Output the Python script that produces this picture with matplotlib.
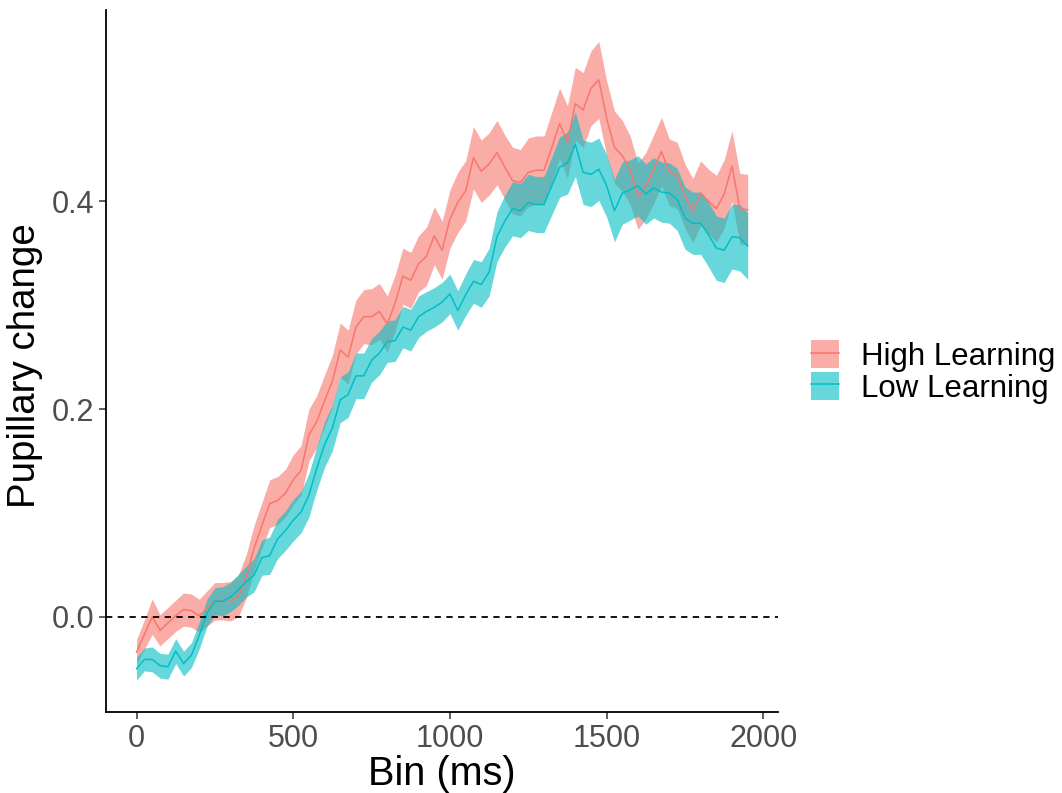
import numpy as np
import matplotlib
matplotlib.use("Agg")
import matplotlib.pyplot as plt
from matplotlib.patches import Patch
from matplotlib.lines import Line2D

plt.rcParams['font.family'] = ['Liberation Sans', 'DejaVu Sans']

bin_ms = np.arange(0, 1951, 25)

high_mean = [-0.034, -0.017, 0.000, -0.013, -0.006, 0.001, 0.007, 0.006, 0.001, 0.008,
             0.015, 0.015, 0.015, 0.020, 0.039, 0.066, 0.088, 0.109, 0.112, 0.119,
             0.132, 0.141, 0.175, 0.188, 0.208, 0.227, 0.257, 0.250, 0.279, 0.289,
             0.289, 0.294, 0.282, 0.302, 0.328, 0.324, 0.340, 0.347, 0.367, 0.353,
             0.383, 0.399, 0.410, 0.442, 0.429, 0.436, 0.447, 0.433, 0.420, 0.418,
             0.428, 0.430, 0.430, 0.452, 0.475, 0.457, 0.494, 0.488, 0.509, 0.517,
             0.480, 0.452, 0.444, 0.430, 0.405, 0.415, 0.431, 0.448, 0.428, 0.425,
             0.405, 0.391, 0.408, 0.400, 0.393, 0.407, 0.434, 0.393, 0.392]
high_se = [0.012, 0.014, 0.017, 0.015, 0.015, 0.015, 0.016, 0.016, 0.016, 0.017,
           0.018, 0.018, 0.019, 0.020, 0.021, 0.022, 0.022, 0.023, 0.023, 0.023,
           0.024, 0.024, 0.025, 0.025, 0.025, 0.025, 0.026, 0.026, 0.026, 0.026,
           0.027, 0.027, 0.027, 0.027, 0.027, 0.027, 0.027, 0.028, 0.028, 0.028,
           0.028, 0.029, 0.029, 0.030, 0.030, 0.030, 0.031, 0.031, 0.032, 0.032,
           0.033, 0.033, 0.033, 0.034, 0.034, 0.035, 0.035, 0.036, 0.036, 0.037,
           0.036, 0.035, 0.034, 0.033, 0.032, 0.032, 0.033, 0.033, 0.032, 0.032,
           0.031, 0.031, 0.031, 0.031, 0.032, 0.033, 0.034, 0.034, 0.034]

low_mean = [-0.050, -0.041, -0.041, -0.047, -0.048, -0.033, -0.045, -0.037, -0.018, 0.004,
            0.015, 0.015, 0.019, 0.026, 0.034, 0.040, 0.057, 0.059, 0.075, 0.083,
            0.093, 0.101, 0.117, 0.143, 0.166, 0.182, 0.209, 0.214, 0.232, 0.232,
            0.247, 0.254, 0.265, 0.266, 0.279, 0.276, 0.289, 0.294, 0.298, 0.303,
            0.311, 0.295, 0.310, 0.323, 0.320, 0.332, 0.366, 0.381, 0.393, 0.391,
            0.399, 0.397, 0.397, 0.415, 0.433, 0.437, 0.455, 0.428, 0.426, 0.431,
            0.415, 0.391, 0.408, 0.411, 0.415, 0.407, 0.413, 0.409, 0.408, 0.402,
            0.384, 0.379, 0.379, 0.368, 0.355, 0.353, 0.366, 0.365, 0.357]
low_se = [0.011, 0.011, 0.012, 0.012, 0.012, 0.012, 0.012, 0.012, 0.013, 0.013,
          0.013, 0.014, 0.014, 0.015, 0.015, 0.016, 0.017, 0.018, 0.019, 0.019,
          0.020, 0.020, 0.021, 0.021, 0.022, 0.022, 0.022, 0.022, 0.022, 0.022,
          0.021, 0.021, 0.020, 0.020, 0.020, 0.020, 0.020, 0.019, 0.019, 0.019,
          0.019, 0.019, 0.020, 0.021, 0.022, 0.023, 0.024, 0.025, 0.026, 0.026,
          0.027, 0.027, 0.027, 0.028, 0.029, 0.030, 0.031, 0.031, 0.031, 0.030,
          0.030, 0.030, 0.030, 0.029, 0.029, 0.029, 0.029, 0.029, 0.029, 0.030,
          0.030, 0.030, 0.030, 0.031, 0.031, 0.031, 0.031, 0.032, 0.032]

groups = ["High Learning", "Low Learning"]
colors = ["#F8766D", "#00BFC4"]
x_ticks = [0, 500, 1000, 1500, 2000]
y_ticks = [0.0, 0.2, 0.4]

fig = plt.figure(figsize=(10.62, 7.93), dpi=100)
ax = fig.add_axes([0.0998, 0.102, 0.633, 0.886])

series = [(high_mean, high_se), (low_mean, low_se)]
handles = []
for (m, s), col, name in zip(series, colors, groups):
    m = np.array(m); s = np.array(s)
    ax.fill_between(bin_ms, m - s, m + s, color=col, alpha=0.6, linewidth=0)
    ax.plot(bin_ms, m, color=col, lw=1.1)
    handles.append((Patch(facecolor=col, alpha=0.6, edgecolor='none'),
                    Line2D([], [], color=col, lw=1.1)))

ax.axhline(0, color='black', lw=1.3, dashes=(3.5, 3))

lo = min(np.min(np.array(high_mean) - np.array(high_se)), np.min(np.array(low_mean) - np.array(low_se)))
hi = max(np.max(np.array(high_mean) + np.array(high_se)), np.max(np.array(low_mean) + np.array(low_se)))
pad = 0.05 * (hi - lo)
ax.set_ylim(lo - pad, hi + pad)
xr = bin_ms[-1] - bin_ms[0]
ax.set_xlim(bin_ms[0] - 0.05 * xr, bin_ms[-1] + 0.05 * xr)

ax.set_xticks(x_ticks)
ax.set_yticks(y_ticks)
ax.set_yticklabels([f"{v:.1f}" for v in y_ticks])
ax.tick_params(axis='both', labelsize=22, labelcolor='#4D4D4D', color='#333333',
               length=5, width=1.1, direction='out')
for side in ['top', 'right']:
    ax.spines[side].set_visible(False)
for side in ['left', 'bottom']:
    ax.spines[side].set_linewidth(1.3)
    ax.spines[side].set_color('black')

ax.set_xlabel("Bin (ms)", fontsize=28.5, labelpad=1)
ax.set_ylabel("Pupillary change", fontsize=27.7)
ax.yaxis.set_label_coords(-0.094, 0.493)

fig.legend(handles, groups, loc='center left', bbox_to_anchor=(0.752, 0.531),
           frameon=False, fontsize=22.5, handlelength=0.9, handleheight=1.0,
           handletextpad=0.7, labelspacing=0.0, borderaxespad=0)

fig.savefig("out.png", dpi=100)
